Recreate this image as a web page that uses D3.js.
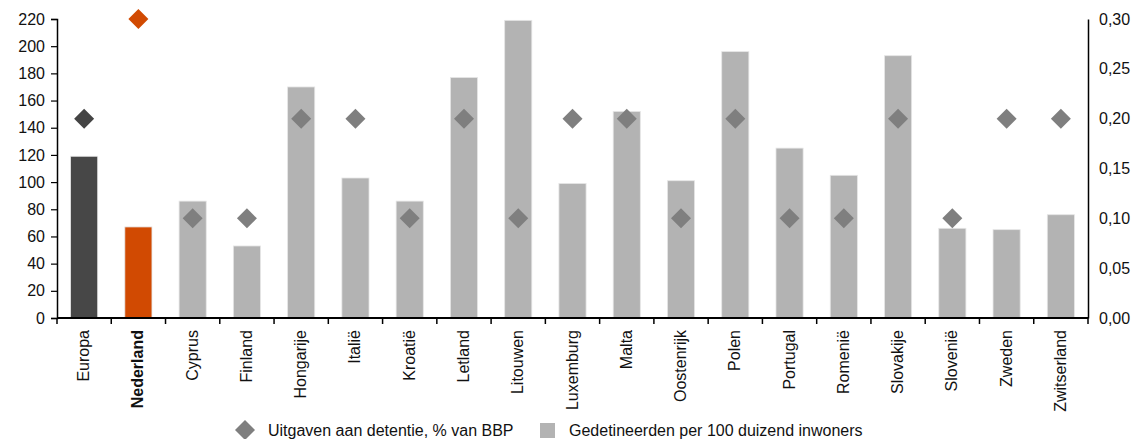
<!DOCTYPE html>
<html>
<head>
<meta charset="utf-8">
<script src="https://cdn.jsdelivr.net/npm/d3@7"></script>
<style>
  body { margin: 0; background: #fff; }
  text { font-family: "Liberation Sans", Arial, sans-serif; }
</style>
</head>
<body>
<script>
// Data
const countries = ["Europa", "Nederland", "Cyprus", "Finland", "Hongarije", "Italië", "Kroatië",
    "Letland", "Litouwen", "Luxemburg", "Malta", "Oostenrijk", "Polen", "Portugal",
    "Romenië", "Slovakije", "Slovenië", "Zweden", "Zwitserland"];
const detainees = [119, 67, 86, 53, 170, 103, 86, 177, 219, 99, 152, 101, 196, 125, 105, 193, 66, 65, 76];
const spending = [0.20, 0.30, 0.10, 0.10, 0.20, 0.20, 0.10, 0.20, 0.10, 0.20, 0.20, 0.10, 0.20, 0.10, 0.10, 0.20, 0.10, 0.20, 0.20];
const leftTicks = [0, 20, 40, 60, 80, 100, 120, 140, 160, 180, 200, 220];
const rightTicks = [0, 0.05, 0.10, 0.15, 0.20, 0.25, 0.30];
const legendLabels = ["Uitgaven aan detentie, % van BBP", "Gedetineerden per 100 duizend inwoners"];

let margin, width, height, svg, x, yLeft, yRight;

setupCanvasSize();
appendSvg("body");
setupScales();
appendBars();
appendAxes();
appendDiamonds();
appendLegend();

function setupCanvasSize() {
    margin = {top: 19, left: 57, bottom: 121, right: 44};
    width = 1132 - margin.left - margin.right;
    height = 439 - margin.top - margin.bottom;
}

function appendSvg(domElement) {
    svg = d3.select(domElement).append("svg")
            .attr("width", 1132)
            .attr("height", 439)
            .append("g")
            .attr("transform", `translate(${margin.left}, ${margin.top})`);
}

function setupScales() {
    x = d3.scaleBand()
            .domain(countries)
            .range([0, width])
            .paddingInner(0.5)
            .paddingOuter(0.25);
    yLeft = d3.scaleLinear().domain([0, 220]).range([height, 0]);
    yRight = d3.scaleLinear().domain([0, 0.30]).range([height, 0]);
}

function barColor(i) {
    if (i === 0) return "#474747";
    if (i === 1) return "#d14a02";
    return "#b3b3b3";
}

function diamondColor(i) {
    if (i === 0) return "#444444";
    if (i === 1) return "#d14a02";
    return "#7f7f7f";
}

function appendBars() {
    svg.selectAll("rect.bar")
        .data(detainees)
        .enter()
        .append("rect")
        .attr("class", "bar")
        .attr("x", (d, i) => x(countries[i]))
        .attr("width", x.bandwidth())
        .attr("y", d => yLeft(d))
        .attr("height", d => height - yLeft(d))
        .attr("fill", (d, i) => barColor(i))
        .attr("stroke", "#e6e6e6")
        .attr("stroke-width", 0.8);
}

function appendAxes() {
    // left axis
    const left = svg.append("g")
        .call(d3.axisLeft(yLeft).tickValues(leftTicks).tickSize(6).tickPadding(6));
    left.select(".domain").attr("stroke", "#000").attr("stroke-width", 1.5);
    left.selectAll(".tick line").attr("stroke", "#000").attr("stroke-width", 1.2);
    left.selectAll("text").attr("font-size", 16).attr("fill", "#111");

    // right axis
    const right = svg.append("g")
        .attr("transform", `translate(${width}, 0)`)
        .call(d3.axisRight(yRight).tickValues(rightTicks).tickSize(0).tickPadding(11)
            .tickFormat(d => d3.format(".2f")(d).replace(".", ",")));
    right.select(".domain").attr("stroke", "#000").attr("stroke-width", 1.5);
    right.selectAll("text").attr("font-size", 16).attr("fill", "#111");

    // bottom axis with ticks between categories
    const bottom = svg.append("g")
        .attr("transform", `translate(0, ${height})`);
    bottom.append("line")
        .attr("x1", 0).attr("x2", width)
        .attr("stroke", "#000").attr("stroke-width", 2);
    const step = x.step();
    bottom.selectAll("line.sep")
        .data(d3.range(countries.length + 1))
        .enter()
        .append("line")
        .attr("class", "sep")
        .attr("x1", i => i * step).attr("x2", i => i * step)
        .attr("y1", 0).attr("y2", 6)
        .attr("stroke", "#000").attr("stroke-width", 1.5);
    bottom.selectAll("text.cat")
        .data(countries)
        .enter()
        .append("text")
        .attr("class", "cat")
        .attr("transform", d => `translate(${x(d) + x.bandwidth() / 2 + 5}, 12) rotate(-90)`)
        .attr("text-anchor", "end")
        .attr("font-size", 16)
        .attr("font-weight", (d, i) => i === 1 ? "bold" : "normal")
        .attr("fill", "#111")
        .text(d => d);
}

function appendDiamonds() {
    const diamond = d3.symbol().type(d3.symbolSquare).size(200);
    svg.selectAll("path.dia")
        .data(spending)
        .enter()
        .append("path")
        .attr("class", "dia")
        .attr("d", diamond)
        .attr("transform", (d, i) => `translate(${x(countries[i]) + x.bandwidth() / 2}, ${yRight(d)}) rotate(45)`)
        .attr("fill", (d, i) => diamondColor(i));
}

function appendLegend() {
    const g = d3.select("svg").append("g")
        .attr("transform", "translate(0, 430)");
    g.append("path")
        .attr("d", d3.symbol().type(d3.symbolSquare).size(200)())
        .attr("transform", "translate(245, 0) rotate(45)")
        .attr("fill", "#7f7f7f");
    g.append("text")
        .attr("x", 268).attr("y", 6)
        .attr("font-size", 16).attr("fill", "#111")
        .text(legendLabels[0]);
    g.append("rect")
        .attr("x", 540).attr("y", -7)
        .attr("width", 15).attr("height", 15)
        .attr("fill", "#b3b3b3");
    g.append("text")
        .attr("x", 569).attr("y", 6)
        .attr("font-size", 16).attr("fill", "#111")
        .text(legendLabels[1]);
}
</script>
</body>
</html>
